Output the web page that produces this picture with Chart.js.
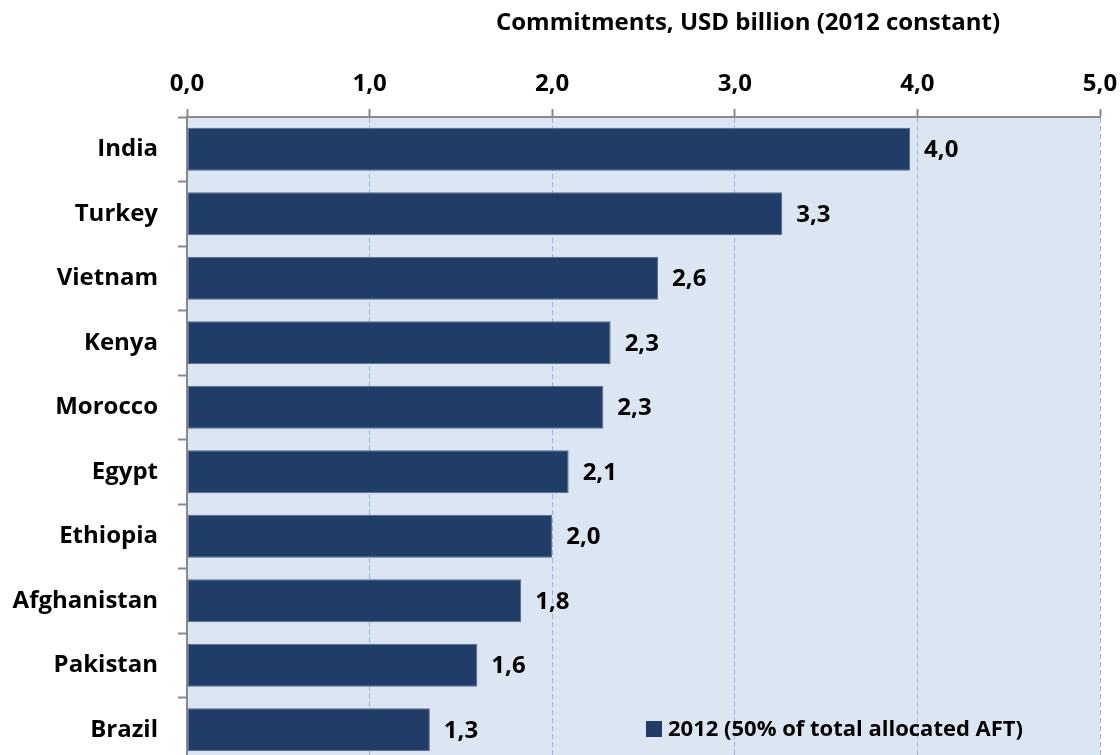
<!DOCTYPE html>
<html>
<head>
<meta charset="utf-8">
<script src="https://cdn.jsdelivr.net/npm/chart.js@4"></script>
<style>
  html, body { margin: 0; padding: 0; background: #fff; overflow: hidden; }
  canvas { display: block; }
</style>
</head>
<body>
<canvas id="aft-chart" width="1120" height="764"></canvas>
<script>
// top recipients, commitments in USD billion (2012 constant)
const countries = ["India", "Turkey", "Vietnam", "Kenya", "Morocco", "Egypt", "Ethiopia", "Afghanistan", "Pakistan", "Brazil"];
const commitments = [3.96, 3.26, 2.58, 2.32, 2.28, 2.09, 2.00, 1.83, 1.59, 1.33];
const seriesLabel = "2012 (50% of total allocated AFT)";
const axisTitle = "Commitments, USD billion (2012 constant)";
const axisMin = 0;
const axisMax = 5;

const FONT = "'Open Sans', sans-serif";
const barColor = "#1f3d66";

function fmt(v) {
    return Number(v).toFixed(1).replace(".", ",");
}

// light blue plot background
const plotBg = {
    id: "plotBg",
    beforeDraw(chart) {
        const a = chart.chartArea;
        const ctx = chart.ctx;
        ctx.save();
        ctx.fillStyle = "#dce6f2";
        ctx.fillRect(a.left, a.top, a.right - a.left, a.bottom - a.top);
        ctx.restore();
    }
};

// value labels, axis title and the legend box in the lower right
const extras = {
    id: "extras",
    afterDatasetsDraw(chart) {
        const ctx = chart.ctx;
        const meta = chart.getDatasetMeta(0);
        ctx.save();
        ctx.fillStyle = "#000";
        ctx.font = "bold 24px " + FONT;
        ctx.textAlign = "left";
        ctx.textBaseline = "middle";
        meta.data.forEach((bar, i) => {
            ctx.fillText(fmt(commitments[i]), bar.x + 14, bar.y + 1);
        });

        ctx.font = "bold 24px " + FONT;
        ctx.textAlign = "center";
        ctx.fillText(axisTitle, 748, 23);

        // legend
        ctx.fillStyle = barColor;
        ctx.fillRect(646, 721, 16, 16);
        ctx.fillStyle = "#000";
        ctx.font = "bold 22px " + FONT;
        ctx.textAlign = "left";
        ctx.fillText(seriesLabel, 668, 730);
        ctx.restore();
    }
};

new Chart(document.getElementById("aft-chart"), {
    type: "bar",
    data: {
        labels: countries,
        datasets: [{
            label: seriesLabel,
            data: commitments,
            backgroundColor: barColor,
            borderColor: "#51698e",
            borderWidth: 1,
            borderSkipped: false,
            barPercentage: 0.67,
            categoryPercentage: 1
        }]
    },
    options: {
        indexAxis: "y",
        responsive: false,
        animation: false,
        layout: { padding: { top: 57, right: 20, bottom: 2, left: 0 } },
        plugins: {
            legend: { display: false },
            tooltip: { enabled: false }
        },
        scales: {
            x: {
                position: "top",
                min: axisMin,
                max: axisMax,
                afterFit(scale) {
                    scale.height = 60;
                    scale.paddingLeft = 0;
                    scale.paddingRight = 0;
                },
                ticks: {
                    stepSize: 1,
                    color: "#000",
                    padding: 10,
                    font: { family: FONT, size: 24, weight: "bold" },
                    callback: v => fmt(v)
                },
                grid: {
                    color: ctx => ctx.index === 0 ? "rgba(0,0,0,0)" : "#98b4e0",
                    lineWidth: 1,
                    tickColor: "#8a8a8a",
                    tickLength: 8,
                    tickWidth: 2
                },
                border: { display: true, color: "#8a8a8a", width: 2, dash: [5, 3] }
            },
            y: {
                afterFit(scale) {
                    scale.width = 187;
                    // labels sit inside their bands, no extra room needed above/below
                    scale.paddingTop = 0;
                    scale.paddingBottom = 0;
                },
                ticks: {
                    color: "#000",
                    padding: 20,
                    font: { family: FONT, size: 24, weight: "bold" }
                },
                grid: {
                    drawOnChartArea: false,
                    tickColor: "#8a8a8a",
                    tickLength: 9,
                    tickWidth: 2
                },
                border: { display: true, color: "#8a8a8a", width: 2 }
            }
        }
    },
    plugins: [plotBg, extras]
});
</script>
</body>
</html>
